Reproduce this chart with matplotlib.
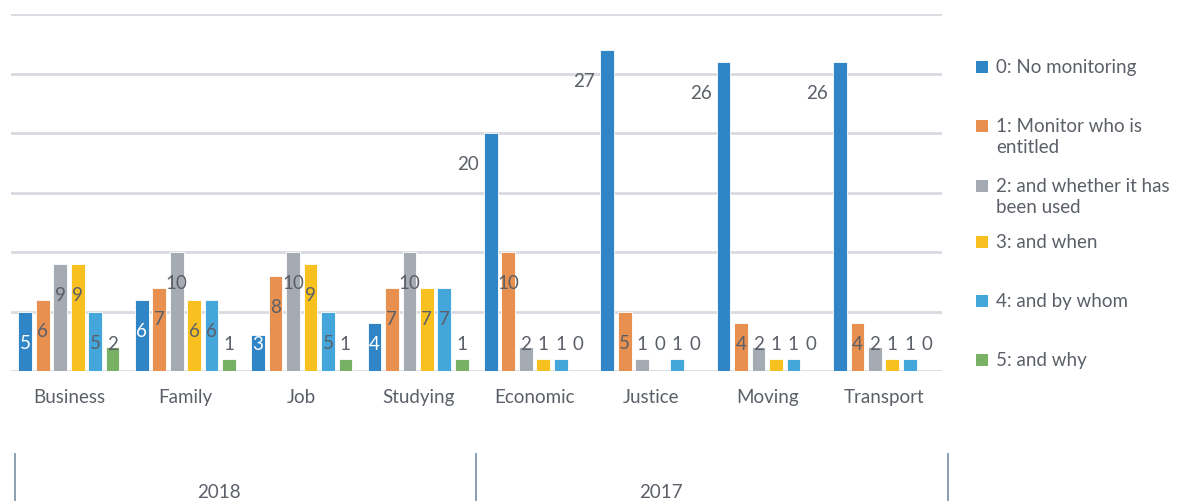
import matplotlib.pyplot as plt
import matplotlib.patches as mpatches
import numpy as np

plt.rcParams['font.family'] = ['Lato', 'DejaVu Sans']

# categories (2018 group first, then 2017)
categories = ['Business', 'Family', 'Job', 'Studying', 'Economic', 'Justice', 'Moving', 'Transport']
years = ['2018', '2017']

series_names = ['0: No monitoring', '1: Monitor who is\nentitled', '2: and whether it has\nbeen used',
                '3: and when', '4: and by whom', '5: and why']
s0 = [5, 6, 3, 4, 20, 27, 26, 26]
s1 = [6, 7, 8, 7, 10, 5, 4, 4]
s2 = [9, 10, 10, 10, 2, 1, 2, 2]
s3 = [9, 6, 9, 7, 1, 0, 1, 1]
s4 = [5, 6, 5, 7, 1, 1, 1, 1]
s5 = [2, 1, 1, 1, 0, 0, 0, 0]
series = [s0, s1, s2, s3, s4, s5]

colors = ['#3085C6', '#E8904F', '#A5ABB3', '#F8C120', '#45A6DB', '#78B064']
txt = '#5B6068'

fig = plt.figure(figsize=(11.84, 5.02), dpi=100)
ax = fig.add_axes([10.8 / 1184, 130 / 502, 931 / 1184, 357 / 502])

x = np.arange(len(categories))
slot = 0.15
bw = 0.118

ax.set_ylim(0, 30)
ax.set_xlim(-0.5, len(categories) - 0.5)
for gy in range(0, 31, 5):
    ax.axhline(gy, color='#D9DAE1', lw=2.0, zorder=0)

for i, vals in enumerate(series):
    xs = x + (i - 2.5) * slot
    ax.bar(xs, vals, width=bw, color=colors[i], edgecolor='white', linewidth=0.6, zorder=2)
    for xi, v in zip(xs, vals):
        yl = max(v - 2.6, 2.3)
        if v >= 15:
            ax.text(xi - bw / 2 - 0.045, yl, str(v), ha='right', va='center', fontsize=13.5, color=txt, zorder=3)
        else:
            c = 'white' if i == 0 else txt
            ax.text(xi, yl, str(v), ha='center', va='center', fontsize=13.5, color=c, zorder=3)

ax.set_xticks(x)
ax.set_xticklabels(categories, fontsize=13.5, color=txt)
ax.tick_params(axis='x', length=0, pad=12)
ax.set_yticks([])
for sp in ax.spines.values():
    sp.set_visible(False)

# second level axis: year groups
for px in [15, 476, 948]:
    fig.add_artist(plt.Line2D([px / 1184, px / 1184], [0, (502 - 455) / 502],
                              color='#8497AB', lw=1.3))
fig.text(219 / 1184, (502 - 493) / 502, years[0], ha='center', va='center', fontsize=13.5, color=txt)
fig.text(661 / 1184, (502 - 493) / 502, years[1], ha='center', va='center', fontsize=13.5, color=txt)

# legend on the right
leg_y = [68, 127, 187, 243, 302, 361]
for name, c, ly in zip(series_names, colors, leg_y):
    fig.add_artist(mpatches.Rectangle((976 / 1184, (502 - ly - 6) / 502), 12 / 1184, 12 / 502,
                                      facecolor=c, edgecolor='none'))
    fig.text(996 / 1184, (502 - ly + 9) / 502, name, ha='left', va='top', fontsize=13.5,
             color=txt, linespacing=1.3)

fig.savefig('out.png', dpi=100)
